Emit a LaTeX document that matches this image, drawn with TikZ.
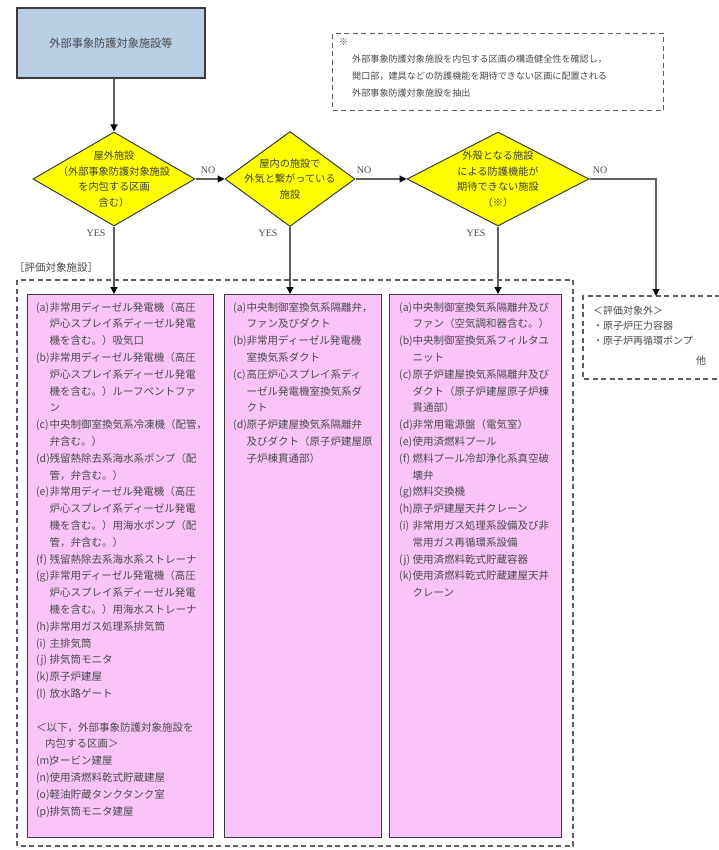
\documentclass[tikz,border=0pt]{standalone}
\usepackage{fontspec}
\setmainfont{Liberation Serif}
\newfontfamily\jp{Noto Sans CJK JP}
\usetikzlibrary{shapes.geometric,arrows.meta}
\definecolor{boxblue}{RGB}{185,205,228}
\definecolor{pinkfill}{RGB}{250,196,250}
\definecolor{diayellow}{RGB}{255,255,0}
\definecolor{linegray}{RGB}{95,95,95}
\definecolor{edgegray}{RGB}{60,60,60}
\definecolor{txtgray}{RGB}{75,75,75}
\newcommand\myitem[1]{\makebox[13.5pt][l]{(#1)}}
\newcommand\myind{\hspace*{13.5pt}}
\begin{document}
\begin{tikzpicture}[x=1pt,y=-1pt,
  conn/.style={draw=linegray, line width=1.2pt},
  arr/.style={conn, -{Triangle[length=7pt,width=7pt,color=black]}},
  dashline/.style={draw=linegray, line width=1.1pt, dash pattern=on 5pt off 3.5pt},
  topbox/.style={draw=edgegray, line width=1.2pt, fill=boxblue, inner sep=0,
     minimum width=188, minimum height=70, font=\jp\fontsize{11.2}{13}\selectfont, text=txtgray},
  dia/.style={diamond, draw=edgegray, line width=1pt, fill=diayellow, inner sep=0},
  diatext/.style={align=center, inner sep=0, font=\jp\fontsize{10.2}{15.5}\selectfont, text=txtgray!85!black},
  pinkbox/.style={draw=edgegray, line width=1pt, fill=pinkfill, inner sep=0, anchor=north west},
  itemtext/.style={anchor=base west, inner sep=0, font=\jp\fontsize{10.5}{12}\selectfont, text=txtgray},
  lab/.style={inner sep=0, font=\fontsize{10}{12}\selectfont, text=txtgray},
  notetext/.style={anchor=base west, inner sep=0, font=\jp\fontsize{9.1}{11}\selectfont, text=txtgray},
  outtext/.style={anchor=base west, inner sep=0, font=\jp\fontsize{10}{12}\selectfont, text=txtgray}
]
\useasboundingbox (0,0) rectangle (719,850);
\fill[white] (0,0) rectangle (719,850);

% top box
\node[topbox] (top) at (111,43) {外部事象防護対象施設等};

% note box
\node[draw=linegray, line width=1.1pt, dash pattern=on 5pt off 3.5pt, anchor=north west,
      minimum width=331, minimum height=77, inner sep=0] (note) at (332,33) {};
\node[notetext] (n0) at (339,46) {※};
\node[notetext] (n1) at (352,63) {外部事象防護対象施設を内包する区画の構造健全性を確認し，};
\node[notetext] (n2) at (352,80) {開口部，建具などの防護機能を期待できない区画に配置される};
\node[notetext] (n3) at (352,97) {外部事象防護対象施設を抽出};

% diamonds
\node[dia, minimum width=162, minimum height=94] (d1) at (114,179) {};
\node[diatext] (t1) at (d1.center) {屋外施設\\（外部事象防護対象施設\\を内包する区画\\含む）};
\node[dia, minimum width=130, minimum height=95] (d2) at (290,179) {};
\node[diatext] (t2) at (d2.center) {屋内の施設で\\外気と繋がっている\\施設};
\node[dia, minimum width=182, minimum height=94] (d3) at (498,179) {};
\node[diatext] (t3) at (d3.center) {外殻となる施設\\による防護機能が\\期待できない施設\\（※）};

% labels
\node[lab] (no1) at (208,170) {NO};
\node[lab] (no2) at (364,170) {NO};
\node[lab] (no3) at (600,170) {NO};
\node[lab] (yes1) at (96,233) {YES};
\node[lab] (yes2) at (268,233) {YES};
\node[lab] (yes3) at (476,233) {YES};

\node[anchor=west, inner sep=0, font=\jp\fontsize{10.5}{12}\selectfont, text=txtgray] (hd) at (14,268) {［評価対象施設］};

% big dashed frame
\draw[dashline] (17,280) rectangle (573,846);

% pink boxes
\node[pinkbox, minimum width=186, minimum height=543] (b1) at (27,294) {};
\node[pinkbox, minimum width=157, minimum height=543] (b2) at (224,294) {};
\node[pinkbox, minimum width=172, minimum height=543] (b3) at (389,294) {};

% out box
\coordinate (o1) at (720,296);
\coordinate (o2) at (583,379);
\draw[dashline] (o1) -| (o2) -- (o2 -| o1);
\coordinate (outin) at (656,296);
\node[outtext] (ot1) at (593,314) {＜評価対象外＞};
\node[outtext] (ot2) at (593,329) {・原子炉圧力容器};
\node[outtext] (ot3) at (593,344) {・原子炉再循環ポンプ};
\node[outtext] (ot4) at (696,364) {他};

% connectors
\draw[arr] (d1.north |- top.south) -- (d1.north);
\draw[arr] (d1.east) -- (d2.west);
\draw[arr] (d2.east) -- (d3.west);
\draw[arr] (d3.east) -| (outin);
\draw[arr] (d1.south) -- (d1.south |- b1.north);
\draw[arr] (d2.south) -- (d2.south |- b2.north);
\draw[arr] (d3.south) -- (d3.south |- b3.north);

% box 1 text
\foreach \t [count=\i from 0] in {
 {\myitem{a}非常用ディーゼル発電機（高圧},
 {\myind 炉心スプレイ系ディーゼル発電},
 {\myind 機を含む。）吸気口},
 {\myitem{b}非常用ディーゼル発電機（高圧},
 {\myind 炉心スプレイ系ディーゼル発電},
 {\myind 機を含む。）ルーフベントファ},
 {\myind ン},
 {\myitem{c}中央制御室換気系冷凍機（配管，},
 {\myind 弁含む。）},
 {\myitem{d}残留熱除去系海水系ポンプ（配},
 {\myind 管，弁含む。）},
 {\myitem{e}非常用ディーゼル発電機（高圧},
 {\myind 炉心スプレイ系ディーゼル発電},
 {\myind 機を含む。）用海水ポンプ（配},
 {\myind 管，弁含む。）},
 {\myitem{f}残留熱除去系海水系ストレーナ},
 {\myitem{g}非常用ディーゼル発電機（高圧},
 {\myind 炉心スプレイ系ディーゼル発電},
 {\myind 機を含む。）用海水ストレーナ},
 {\myitem{h}非常用ガス処理系排気筒},
 {\myitem{i}主排気筒},
 {\myitem{j}排気筒モニタ},
 {\myitem{k}原子炉建屋},
 {\myitem{l}放水路ゲート}}
 {\node[itemtext, name=ba\i] at (36,{311+16.8*\i}) {\t};}
\foreach \t [count=\i from 25] in {
 {＜以下，外部事象防護対象施設を},
 {\hspace*{9pt}内包する区画＞},
 {\myitem{m}タービン建屋},
 {\myitem{n}使用済燃料乾式貯蔵建屋},
 {\myitem{o}軽油貯蔵タンクタンク室},
 {\myitem{p}排気筒モニタ建屋}}
 {\node[itemtext, name=ba\i] at (36,{311+16.8*\i}) {\t};}

% box 2 text
\foreach \t [count=\i from 0] in {
 {\myitem{a}中央制御室換気系隔離弁，},
 {\myind ファン及びダクト},
 {\myitem{b}非常用ディーゼル発電機},
 {\myind 室換気系ダクト},
 {\myitem{c}高圧炉心スプレイ系ディ},
 {\myind ーゼル発電機室換気系ダ},
 {\myind クト},
 {\myitem{d}原子炉建屋換気系隔離弁},
 {\myind 及びダクト（原子炉建屋原},
 {\myind 子炉棟貫通部）}}
 {\node[itemtext, name=bb\i] at (233,{311+16.8*\i}) {\t};}

% box 3 text
\foreach \t [count=\i from 0] in {
 {\myitem{a}中央制御室換気系隔離弁及び},
 {\myind ファン（空気調和器含む。）},
 {\myitem{b}中央制御室換気系フィルタユ},
 {\myind ニット},
 {\myitem{c}原子炉建屋換気系隔離弁及び},
 {\myind ダクト（原子炉建屋原子炉棟},
 {\myind 貫通部）},
 {\myitem{d}非常用電源盤（電気室）},
 {\myitem{e}使用済燃料プール},
 {\myitem{f}燃料プール冷却浄化系真空破},
 {\myind 壊弁},
 {\myitem{g}燃料交換機},
 {\myitem{h}原子炉建屋天井クレーン},
 {\myitem{i}非常用ガス処理系設備及び非},
 {\myind 常用ガス再循環系設備},
 {\myitem{j}使用済燃料乾式貯蔵容器},
 {\myitem{k}使用済燃料乾式貯蔵建屋天井},
 {\myind クレーン}}
 {\node[itemtext, name=bc\i] at (399,{311+16.8*\i}) {\t};}
\end{tikzpicture}
\end{document}
